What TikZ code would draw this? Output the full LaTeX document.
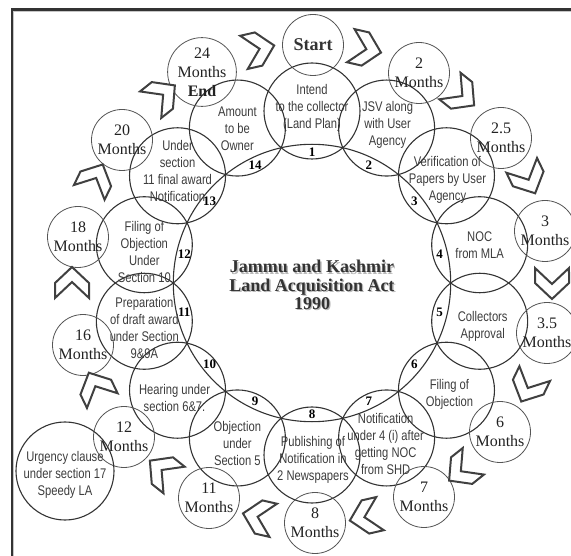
\documentclass[tikz,border=0pt]{standalone}
\usepackage{fontspec}
\setmainfont{Liberation Serif}
\newfontfamily\narrowsans[FakeStretch=0.8]{Liberation Sans}
\usetikzlibrary{calc}
\definecolor{ink}{HTML}{333333}
\definecolor{steptext}{HTML}{3C3C3C}
\definecolor{monthline}{HTML}{555555}
\definecolor{monthtext}{HTML}{222222}
\definecolor{chevline}{HTML}{404040}
\begin{document}
\begin{tikzpicture}[x=1pt,y=1pt,
  stepcirc/.style={circle, draw=ink, line width=1.1pt, minimum size=96pt, inner sep=0pt},
  steplabel/.style={inner sep=0pt, align=center, text=steptext, font=\narrowsans\fontsize{14}{17}\selectfont},
  monthcirc/.style={circle, draw=monthline, line width=0.8pt, minimum size=61pt, inner sep=0pt,
    align=center, text=monthtext, font=\fontsize{16}{19}\selectfont},
  numlabel/.style={inner sep=0pt, text=black, font=\bfseries\fontsize{13}{13}\selectfont},
  chev/.style={draw=chevline, line width=2pt, fill=white, line join=miter},
  titletext/.style={align=center, font=\bfseries\fontsize{18}{18.3}\selectfont}
]
\useasboundingbox (0,0) rectangle (571,-556);
% frame
\draw[gray!45, line width=1pt] (571,-11.5) -- (13.8,-11.5) -- (13.8,-556);
\draw[ink, line width=2.5pt] (571,-9.5) -- (11.8,-9.5) -- (11.8,-556);
\coordinate (C) at (312,-283);
% inner ring
\draw[ink, line width=1.1pt] (C) circle[radius=138.7];
% step circles
\foreach \k/\dx/\dy/\txt in {
  1/0/3/{Intend\\to the collector\\(Land Plan)},
  2/1/3/{JSV along\\with User\\Agency},
  3/1/-4/{Verification of\\Papers by User\\Agency},
  4/0/0/{NOC\\from MLA},
  5/3/-5/{Collectors\\Approval},
  6/3/-4/{Filing of\\Objection},
  7/-1/-6/{Notification\\under 4 (i) after\\getting NOC\\from SHD},
  8/1/-5/{Publishing of\\Notification in\\2 Newspapers},
  9/0/-6/{Objection\\under\\Section 5},
  10/-3/-8/{Hearing under\\section 6\&7.},
  11/0/-7/{Preparation\\of draft award\\under Section\\9\&9A},
  12/0/-7/{Filing of\\Objection\\Under\\Section 10},
  13/0/5/{Under\\section\\11 final award\\Notification},
  14/0/-1/{Amount\\to be\\Owner}}{
  \pgfmathsetmacro\ang{90-(\k-1)*360/14}
  \node[stepcirc] (s\k) at ($(C)+(\ang:172)$) {};
  \node[steplabel] (t\k) at ($(s\k.center)+(\dx,\dy)$) {\txt};
  \node[numlabel] (n\k) at ($(C)+(\ang:131)$) {\k};
}
% month circles (measured positions)
\foreach \k/\mx/\my/\txt in {
  2/419/73/{2\\Months}, 3/501/138/{2.5\\Months}, 4/545/231/{3\\Months}, 5/547/333/{3.5\\Months},
  6/500/432/{6\\Months}, 7/424/497/{7\\Months}, 8/315/523/{8\\Months}, 9/209/498/{11\\Months},
  10/124/437/{12\\Months}, 11/83/345/{16\\Months}, 12/78/237/{18\\Months}, 13/122/140/{20\\Months},
  14/202/72/{24\\Months\\\textbf{End}}}{
  \node[monthcirc] (m\k) at (\mx,-\my) {\txt};
}
\node[monthcirc, font=\bfseries\fontsize{18}{20}\selectfont, text=ink] (m1) at (313,-45) {Start};
% chevrons
\foreach \k in {0,...,13}{
  \pgfmathsetmacro\a{90-12.857-\k*25.714}
  \draw[chev, shift={($(C)+(\a:240)$)}, rotate=\a-90]
    (-15,-17) -- (0,-17) -- (16,0) -- (0,17) -- (-15,17) -- (1,0) -- cycle;
}
% urgency clause
\node[stepcirc, minimum size=98pt] (u) at (65,-471) {};
\node[steplabel] (ut) at ($(u.center)+(0,-4)$) {Urgency clause\\under section 17\\Speedy LA};
% title
\node[titletext, text=gray!55] (titleshadow) at (313.3,-286.3) {Jammu and Kashmir\\Land Acquisition Act\\1990};
\node[titletext, text=ink] (title) at (312,-285) {Jammu and Kashmir\\Land Acquisition Act\\1990};
\end{tikzpicture}
\end{document}
